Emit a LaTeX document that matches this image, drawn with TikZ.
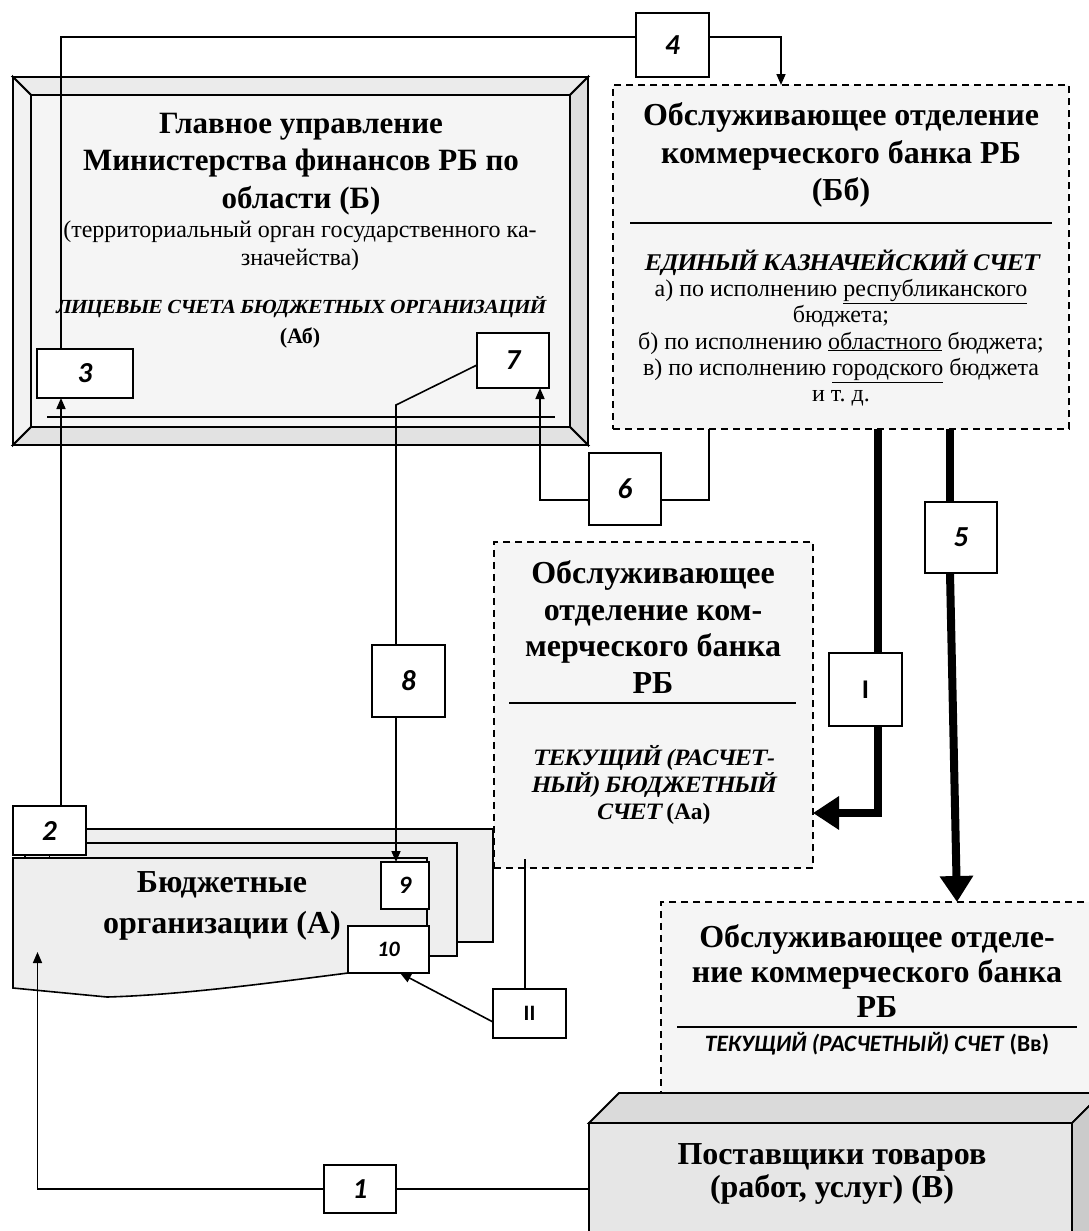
\documentclass[tikz,border=0pt]{standalone}
\usepackage{fontspec}
\setmainfont{Liberation Serif}[BoldItalicFont={Liberation Serif Bold},BoldItalicFeatures={FakeSlant=0.2}]
\newfontfamily\calfont{Carlito}
\usetikzlibrary{arrows.meta}
\definecolor{paneF}{HTML}{F5F5F5}
\definecolor{bevT}{HTML}{EBEBEB}
\definecolor{bevL}{HTML}{F2F2F2}
\definecolor{bevR}{HTML}{DEDEDE}
\definecolor{bevB}{HTML}{E2E2E2}
\definecolor{pageF}{HTML}{EEEEEE}
\definecolor{boxFront}{HTML}{E6E6E6}
\definecolor{boxTop}{HTML}{DADADA}
\definecolor{boxSide}{HTML}{CBCBCB}
\begin{document}
\begin{tikzpicture}[x=1pt,y=-1pt,
  conn/.style={line width=1.6pt},
  arr/.style={line width=1.6pt,-{Triangle[length=11pt,width=9pt]}},
  thk/.style={line width=8pt},
  thkarr/.style={line width=8pt,-{Triangle[length=26pt,width=32pt]}},
  numbox/.style={draw,line width=1.8pt,fill=white,inner sep=0pt,outer sep=0pt,
    font=\calfont\bfseries\itshape\fontsize{29}{32}\selectfont},
  romanbox/.style={numbox,font=\calfont\bfseries\fontsize{27}{30}\selectfont},
  dbox/.style={draw,dash pattern=on 7pt off 5pt,line width=1.6pt,fill=paneF,inner sep=0pt,outer sep=0pt},
  title/.style={font=\fontsize{32}{37.5}\selectfont\bfseries,align=center,inner sep=0pt},
  body/.style={font=\fontsize{24}{26.2}\selectfont,align=center,inner sep=0pt},
  sep/.style={line width=1.6pt}
]
\useasboundingbox (0,0) rectangle (1089,1231);
\fill[white] (0,0) rectangle (1089,1231);
\clip (0,0) rectangle (1089,1231);

% ---------- frame (Б)
\node[draw,line width=1.8pt,minimum width=575pt,minimum height=368pt,inner sep=0pt,outer sep=0pt] (glav) at (300.5,261) {};
\filldraw[line width=1.8pt,fill=bevT] (13,77) -- (588,77) -- (570,95) -- (31,95) -- cycle;
\filldraw[line width=1.8pt,fill=bevL] (13,77) -- (31,95) -- (31,427) -- (13,445) -- cycle;
\filldraw[line width=1.8pt,fill=bevR] (588,77) -- (588,445) -- (570,427) -- (570,95) -- cycle;
\filldraw[line width=1.8pt,fill=bevB] (13,445) -- (588,445) -- (570,427) -- (31,427) -- cycle;
\filldraw[line width=1.8pt,fill=paneF] (31,95) rectangle (570,427);
\draw[sep] (47,417) -- (555,417);
\node[title,font=\fontsize{31}{37.5}\selectfont\bfseries] (gtitle) at (301,164) {Главное управление\\Министерства финансов РБ по\\области (Б)};
\node[body,font=\fontsize{24}{28}\selectfont] (gsub) at (300,246) {(территориальный орган государственного ка-\\значейства)};
\node[body,font=\fontsize{22}{30}\selectfont\bfseries] (gacc) at (300,322) {{\fontsize{20}{30}\selectfont\textit{ЛИЦЕВЫЕ СЧЕТА БЮДЖЕТНЫХ ОРГАНИЗАЦИЙ}}\\(Аб)};

% ---------- bank (Бб)
\node[dbox,minimum width=456pt,minimum height=344pt] (bb) at (841,257) {};
\node[title] (bbt) at (841,155) {Обслуживающее отделение\\коммерческого банка РБ\\(Бб)};
\draw[sep] (630,223) -- (1052,223);
\node[body] (bbl) at (841,328) {\textbf{\textit{ЕДИНЫЙ КАЗНАЧЕЙСКИЙ СЧЕТ}}\\а) по исполнению \underline{республиканского}\\бюджета;\\б) по исполнению \underline{областного} бюджета;\\в) по исполнению \underline{городского} бюджета\\и т.~д.};

% ---------- stacked pages (А)
\filldraw[line width=1.6pt,fill=pageF] (30,829) rectangle (493,942);
\filldraw[line width=1.6pt,fill=pageF] (25,843) rectangle (457,956);
\filldraw[line width=1.6pt,fill=pageF] (13,858) -- (427,858) -- (427,973) -- (348,973)
   .. controls (270,983) and (180,995) .. (107,997) -- (13,988) -- cycle;
\node[title,font=\fontsize{32}{41}\selectfont\bfseries] (orgt) at (222,906) {Бюджетные\\организации (А)};

% ---------- bank (Аа)
\node[dbox,minimum width=319pt,minimum height=326pt] (aa) at (653.5,705) {};
\node[title,font=\fontsize{32}{36.7}\selectfont\bfseries] (aat) at (653,627) {Обслуживающее\\отделение ком-\\мерческого банка\\РБ};
\draw[sep] (509,703) -- (796,703);
\node[body,font=\fontsize{23.5}{27}\selectfont\bfseries] (aab) at (653,785) {\textit{ТЕКУЩИЙ (РАСЧЕТ-}\\\textit{НЫЙ) БЮДЖЕТНЫЙ}\\\textit{СЧЕТ} (Аа)};

% ---------- bank (Вв)
\node[dbox,fill=paneF,minimum width=434pt,minimum height=191pt] (vv) at (878,997.5) {};
\node[title,font=\fontsize{32}{35}\selectfont\bfseries] (vvt) at (877,971) {Обслуживающее отделе-\\ние коммерческого банка\\РБ};
\draw[sep] (677,1027) -- (1077,1027);
\node[inner sep=0pt,font=\calfont\bfseries\fontsize{23.5}{27}\selectfont] (vvb) at (877,1044) {\textit{ТЕКУЩИЙ (РАСЧЕТНЫЙ) СЧЕТ} (Вв)};

% ---------- suppliers (В), 3D box
\filldraw[line width=1.8pt,fill=boxTop] (589,1123) -- (619,1093) -- (1102,1093) -- (1072,1123) -- cycle;
\filldraw[line width=1.8pt,fill=boxSide] (1072,1123) -- (1102,1093) -- (1102,1245) -- (1072,1245) -- cycle;
\node[draw,line width=1.8pt,fill=boxFront,minimum width=483pt,minimum height=122pt,inner sep=0pt,outer sep=0pt] (sup) at (830.5,1184) {};
\node[title,font=\fontsize{32}{33}\selectfont\bfseries] (supt) at (832,1174) {Поставщики товаров\\(работ, услуг) (В)};

% ---------- numbered boxes
\node[numbox,minimum width=72pt,minimum height=48pt] (b1) at (360,1189) {1};
\node[numbox,minimum width=73pt,minimum height=49pt] (b2) at (49.5,830.5) {2};
\node[numbox,minimum width=96pt,minimum height=49pt] (b3) at (85,373.5) {3};
\node[numbox,minimum width=73pt,minimum height=64pt] (b4) at (672.5,45) {4};
\node[numbox,minimum width=72pt,minimum height=71pt] (b5) at (961,537.5) {5};
\node[numbox,minimum width=72pt,minimum height=72pt] (b6) at (625,489) {6};
\node[numbox,minimum width=72pt,minimum height=55pt] (b7) at (513,360.5) {7};
\node[numbox,minimum width=73pt,minimum height=72pt] (b8) at (408.5,681) {8};
\node[numbox,minimum width=48pt,minimum height=47pt,font=\calfont\bfseries\itshape\fontsize{25}{28}\selectfont] (b9) at (405,885.5) {9};
\node[numbox,minimum width=81pt,minimum height=47pt,font=\calfont\bfseries\itshape\fontsize{22}{25}\selectfont] (b10) at (388.5,949.5) {10};
\node[romanbox,minimum width=73pt,minimum height=73pt] (bI) at (865.5,689.5) {I};
\node[romanbox,minimum width=73pt,minimum height=49pt,font=\calfont\bfseries\fontsize{22}{25}\selectfont] (bII) at (529.5,1013.5) {II};

% ---------- connectors
\coordinate (cL) at (61,37);
\coordinate (c4) at (781,37);
\coordinate (c6a) at (709,500);
\coordinate (c6b) at (540,500);
\coordinate (c7) at (396,405);
\coordinate (cI) at (878,813);
\coordinate (c5) at (950,573);
\coordinate (c5b) at (957,902);
\coordinate (c1) at (37.5,1189);
\coordinate (c1e) at (37.5,952);
\coordinate (cII) at (525,859);

\draw[conn] (b2.south) -- (b2.south |- 0,858);
\draw[arr] (b2.north -| cL) -- (b3.south -| cL);
\draw[conn] (b3.north -| cL) -- (cL) -- (b4.west |- cL);
\draw[arr] (b4.east |- c4) -- (c4) -- (c4 |- bb.north);
\draw[conn] (bb.south -| c6a) -- (c6a) -- (b6.east |- c6a);
\draw[arr] (b6.west |- c6b) -- (c6b) -- (b7.south -| c6b);
\draw[conn] ([yshift=-4.5pt]b7.west) -- (c7) -- (b8.north -| c7);
\draw[arr] (b8.south -| c7) -- (b9.north -| c7);
\draw[thk] (bb.south -| cI) -- (bI.north -| cI);
\draw[thkarr] (bI.south -| cI) -- (cI) -- (aa.east |- cI);
\draw[thk] (bb.south -| c5) -- (b5.north -| c5);
\draw[thkarr] (c5) -- (c5b |- vv.north);
\draw[conn] (sup.west |- c1) -- (b1.east |- c1);
\draw[arr] (b1.west |- c1) -- (c1) -- (c1e);
\draw[conn] (cII) -- (bII.north -| cII);
\draw[arr] ([yshift=-8.5pt]bII.west) -- ([xshift=11.5pt]b10.south);

% redraw box borders on top of connector ends
\foreach \n in {b1,b2,b3,b4,b5,b6,b7,b8,b9,b10,bI,bII}{\draw[line width=1.8pt] (\n.south west) rectangle (\n.north east);}
\end{tikzpicture}
\end{document}
